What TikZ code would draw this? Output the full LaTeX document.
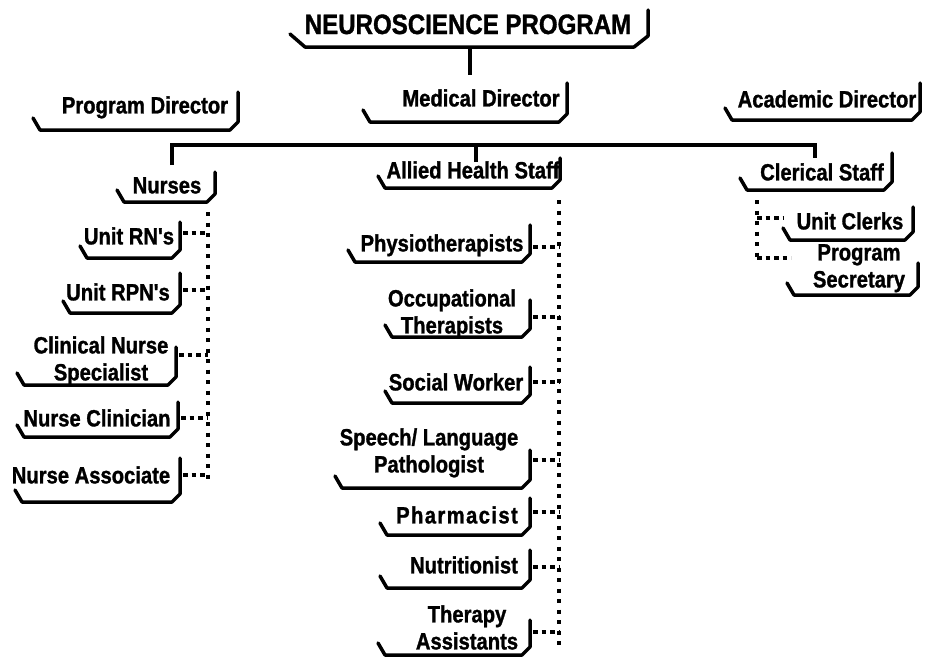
\documentclass[tikz,border=0pt]{standalone}
\usepackage{fontspec}
\newfontfamily\orgfont{Liberation Sans}[FakeStretch=0.86, FakeBold=1.2]
\begin{document}
\begin{tikzpicture}[x=1pt,y=-1pt,
  frame/.style={line width=3.5pt, line join=round, line cap=round},
  lbl/.style={font=\orgfont\bfseries\fontsize{23.5}{27}\selectfont, align=center,
              inner sep=0pt, text height=16.8pt, text depth=0pt},
  ttl/.style={font=\orgfont\bfseries\fontsize{28}{30}\selectfont,
              inner sep=0pt, text height=20pt, text depth=0pt},
  link/.style={line width=3.5pt},
  spine/.style={line width=4pt, dash pattern=on 4pt off 6.5pt},
  stub/.style={line width=4pt, dash pattern=on 4.5pt off 4pt}]
% open bracket frame under a label: left, bottom, right, top of right side
\newcommand\orgframe[4]{%
  \draw[frame] (#1,#2-12) -- (#1+7,#2) -- (#3-8,#2) -- (#3,#2-8) -- (#3,#4);}
\useasboundingbox (0,0) rectangle (927,659);

% ---- top level ----
\node[ttl] (prog) at (468,24) {NEUROSCIENCE PROGRAM};
\draw[frame] (290,34) -- (305,47) -- (634,47) -- (648,36) -- (648,10);
\coordinate (progdrop) at (470,75);
\draw[link] (470,47) -- (progdrop);

\node[lbl] (pdir) at (145,105) {Program Director};
\orgframe{33}{130}{238}{92}
\node[lbl] (mdir) at (481,98) {Medical Director};
\orgframe{363}{122}{567}{83}
\node[lbl] (adir) at (827,99) {Academic Director};
\orgframe{725}{120}{920}{83}

% ---- second level ----
\node[lbl] (nurses) at (167,185) {Nurses};
\orgframe{117}{202}{215}{172}
\node[lbl] (allied) at (473,170) {Allied Health Staff};
\orgframe{378}{188}{560}{158}
\node[lbl] (clerical) at (822,172) {Clerical Staff};
\orgframe{740}{190}{892}{153}

% bus joining the three groups
\coordinate (busL) at (172,145);
\coordinate (busR) at (815,145);
\coordinate (nursesIn) at (172,165);
\coordinate (alliedIn) at (476,162);
\coordinate (clericalIn) at (815,158);
\draw[link] (nursesIn) -- (busL) -- (busR) -- (clericalIn);
\draw[link] (alliedIn) -- (alliedIn |- busL);

% ---- nurses ----
\node[lbl] (rn) at (129,236) {Unit RN's};
\orgframe{80}{258}{180}{222}
\node[lbl] (rpn) at (118,292) {Unit RPN's};
\orgframe{63}{313}{180}{273}
\node[lbl] (cns) at (101,372) {Clinical Nurse\\Specialist};
\orgframe{17}{385}{176}{347}
\node[lbl] (nc) at (97,418) {Nurse Clinician};
\orgframe{17}{437}{178}{402}
\node[lbl] (na) at (91,475) {Nurse Associate};
\orgframe{15}{502}{180}{458}

\coordinate (nTop) at (208,212);
\coordinate (nBot) at (208,479);
\draw[spine] (nTop) -- (nBot);
\coordinate (rnE) at (183,233);
\coordinate (rpnE) at (183,290);
\coordinate (cnsE) at (179,355);
\coordinate (ncE) at (181,418);
\coordinate (naE) at (183,475);
\foreach \c in {rnE,rpnE,cnsE,ncE,naE}
  \draw[stub] (\c) -- (\c -| nTop);

% ---- allied health ----
\node[lbl] (physio) at (442,243) {Physiotherapists};
\orgframe{348}{262}{530}{225}
\node[lbl] (ot) at (452,325) {Occupational\\Therapists};
\orgframe{385}{337}{530}{300}
\node[lbl] (sw) at (456,382) {Social Worker};
\orgframe{385}{403}{530}{367}
\node[lbl] (slp) at (429,464) {Speech/ Language\\Pathologist};
\orgframe{335}{488}{530}{450}
\node[lbl, font=\orgfont\bfseries\fontsize{23.5}{27}\selectfont\addfontfeature{LetterSpace=6}] (pharm) at (457,515) {Pharmacist};
\orgframe{380}{535}{530}{498}
\node[lbl] (nutr) at (464,565) {Nutritionist};
\orgframe{380}{588}{530}{550}
\node[lbl] (ta) at (467,641) {Therapy\\Assistants};
\orgframe{378}{655}{530}{620}

\coordinate (aTop) at (559,200);
\coordinate (aBot) at (559,648);
\draw[spine] (aTop) -- (aBot);
\coordinate (physioE) at (533,247);
\coordinate (otE) at (533,317);
\coordinate (swE) at (533,382);
\coordinate (slpE) at (533,460);
\coordinate (pharmE) at (533,512);
\coordinate (nutrE) at (533,567);
\coordinate (taE) at (533,632);
\foreach \c in {physioE,otE,swE,slpE,pharmE,nutrE,taE}
  \draw[stub] (\c) -- (\c -| aTop);

% ---- clerical ----
\node[lbl] (uc) at (850,221) {Unit Clerks};
\orgframe{783}{240}{913}{207}
\node[lbl] (ps) at (859,279) {Program\\Secretary};
\orgframe{787}{295}{918}{263}

\coordinate (cTop) at (757,200);
\coordinate (cBot) at (757,260);
\draw[spine] (cTop) -- (cBot);
\coordinate (ucW) at (783,218);
\coordinate (psW) at (791,258);
\draw[stub] (ucW -| cTop) -- (ucW);
\draw[stub] (psW -| cTop) -- (psW);
\end{tikzpicture}
\end{document}
